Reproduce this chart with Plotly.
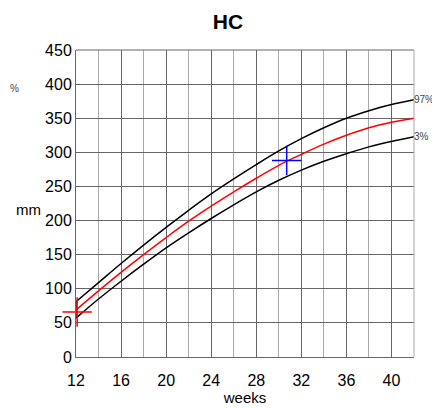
import plotly.graph_objects as go

weeks = [12, 14, 16, 18, 20, 22, 24, 26, 28, 30, 32, 34, 36, 38, 40, 42]
p97 = [81, 109, 137, 164, 190, 215, 239, 261, 282, 302, 320, 336, 350, 361, 370, 377]
p50 = [69, 97, 124, 150, 175, 199, 221, 242, 262, 281, 297, 312, 325, 336, 344, 350]
p3 = [57, 85, 111, 136, 160, 182, 203, 223, 242, 259, 274, 287, 298, 308, 316, 323]
meas_red = ([12.1], [66])
meas_blue = ([30.7], [288])
y_ticks = [0, 50, 100, 150, 200, 250, 300, 350, 400, 450]
x_ticks = [12, 16, 20, 24, 28, 32, 36, 40]

fig = go.Figure()
fig.add_trace(go.Scatter(x=weeks, y=p97, mode="lines", line=dict(color="black", width=1.5), line_shape="spline"))
fig.add_trace(go.Scatter(x=weeks, y=p3, mode="lines", line=dict(color="black", width=1.5), line_shape="spline"))
fig.add_trace(go.Scatter(x=[weeks[0], weeks[0]], y=[p3[0], p97[0]], mode="lines", line=dict(color="black", width=1.5)))
fig.add_trace(go.Scatter(x=weeks, y=p50, mode="lines", line=dict(color="red", width=1.5), line_shape="spline"))
fig.add_trace(go.Scatter(x=meas_red[0], y=meas_red[1], mode="markers", cliponaxis=False,
                         marker=dict(symbol="cross-thin", size=21, line=dict(color="red", width=1.5))))
fig.add_trace(go.Scatter(x=meas_blue[0], y=meas_blue[1], mode="markers", cliponaxis=False,
                         marker=dict(symbol="cross-thin", size=21, line=dict(color="blue", width=1.5))))

fig.add_annotation(x=weeks[-1], y=p97[-1], text="97%", showarrow=False, xanchor="left", xshift=-2,
                   font=dict(size=10, color="#444"))
fig.add_annotation(x=weeks[-1], y=p3[-1], text="3%", showarrow=False, xanchor="left", xshift=-2,
                   font=dict(size=10, color="#444"))

fig.update_layout(
    width=440, height=408,
    margin=dict(l=68, r=34, t=42, b=59),
    paper_bgcolor="white", plot_bgcolor="white",
    showlegend=False,
    font=dict(family="Liberation Sans, Arial, sans-serif", color="black"),
    title=dict(text="<b>HC</b>", x=0.5, xanchor="center", y=0.966, yanchor="middle",
               font=dict(size=21)),
    xaxis=dict(range=[12, 42], tickvals=x_ticks, showgrid=True, gridcolor="#666", gridwidth=1,
               minor=dict(dtick=2, tick0=12, showgrid=True, gridcolor="#aaa", gridwidth=1),
               showline=True, linecolor="#666", linewidth=1, mirror=False,
               ticks="", tickfont=dict(size=16), zeroline=False, ticklabelstandoff=9,
               title=dict(text="weeks", font=dict(size=15), standoff=0)),
    yaxis=dict(range=[0, 450], tickvals=y_ticks, showgrid=True, gridcolor="#666", gridwidth=1,
               showline=True, linecolor="#666", linewidth=1, ticks="", tickfont=dict(size=16),
               zeroline=False),
)
fig.add_annotation(x=-0.142, y=216, xref="paper", yref="y", text="mm", showarrow=False,
                   font=dict(size=15), xanchor="center")
fig.add_annotation(x=-0.201, y=394, xref="paper", yref="y", text="%", showarrow=False,
                   font=dict(size=10, color="#444"), xanchor="left")
fig.add_shape(type="line", xref="paper", yref="paper", x0=0, x1=1, y0=1, y1=1, line=dict(color="#666", width=1))
fig.add_shape(type="line", xref="paper", yref="paper", x0=1, x1=1, y0=0, y1=1, line=dict(color="#aaa", width=1))
fig.write_html("out.html")
